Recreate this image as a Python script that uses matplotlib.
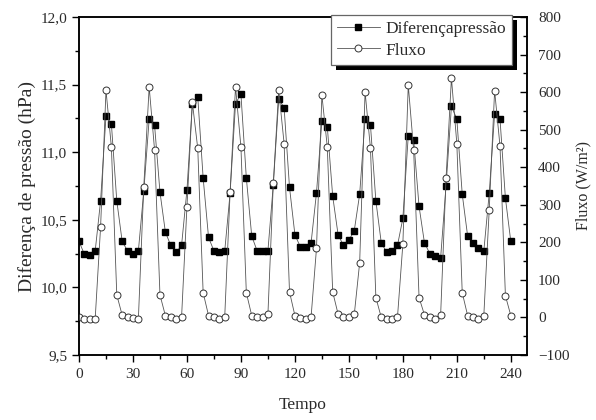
import matplotlib
matplotlib.use("Agg")
import matplotlib.pyplot as plt
from matplotlib.patches import Rectangle
from matplotlib.transforms import IdentityTransform
from matplotlib.ticker import MultipleLocator, FuncFormatter

tempo = list(range(0, 241, 3))

diferenca_pressao = [
    10.34, 10.245, 10.24, 10.27, 10.64, 11.265, 11.21, 10.64,
    10.34, 10.27, 10.245, 10.27, 10.71, 11.245, 11.20, 10.705,
    10.41, 10.31, 10.26, 10.31, 10.72, 11.36, 11.41, 10.81,
    10.37, 10.27, 10.26, 10.27, 10.70, 11.36, 11.43, 10.81,
    10.38, 10.27, 10.27, 10.27, 10.76, 11.39, 11.33, 10.74,
    10.39, 10.30, 10.30, 10.33, 10.70, 11.23, 11.19, 10.675,
    10.39, 10.31, 10.35, 10.42, 10.69, 11.245, 11.20, 10.64,
    10.33, 10.26, 10.27, 10.31, 10.51, 11.12, 11.09, 10.60,
    10.33, 10.25, 10.23, 10.22, 10.75, 11.34, 11.245, 10.69,
    10.38, 10.33, 10.29, 10.27, 10.695, 11.285, 11.245, 10.66,
    10.34,
]

fluxo = [
    2, -3, -4, -3, 241, 605, 454, 60,
    6, 0, -2, -4, 348, 614, 446, 60,
    5, 0, -3, 0, 295, 573, 450, 66,
    5, 0, -3, 2, 335, 614, 454, 66,
    5, 0, 0, 8, 357, 605, 463, 68,
    5, -2, -3, 2, 184, 592, 454, 68,
    9, 0, 0, 8, 146, 601, 450, 53,
    0, -3, -3, 0, 195, 619, 446, 53,
    7, 2, -3, 7, 370, 637, 463, 66,
    5, 0, -3, 5, 286, 604, 456, 58,
    5,
]

x_ticks = [0, 30, 60, 90, 120, 150, 180, 210, 240]

plt.rcParams['font.family'] = ['Liberation Serif', 'DejaVu Serif']
txt = '#2a2a2a'
fs = 11

fig = plt.figure(figsize=(5.96, 4.2), dpi=100)
ax = fig.add_axes([79/596, 1-355/420, (527-79)/596, (355-17)/420])
ax2 = ax.twinx()

l1, = ax.plot(tempo, diferenca_pressao, color='#555555', lw=0.6,
              marker='s', markersize=4.6, markerfacecolor='black',
              markeredgecolor='black', label='Diferençapressão')
l2, = ax2.plot(tempo, fluxo, color='#555555', lw=0.6,
               marker='o', markersize=5, markerfacecolor='white',
               markeredgecolor='#333333', markeredgewidth=0.7, label='Fluxo')

ax.set_xlim(0, 249)
ax.set_ylim(9.5, 12.0)
ax2.set_ylim(-100, 800)

ax.xaxis.set_major_locator(plt.FixedLocator(x_ticks))
ax.xaxis.set_minor_locator(MultipleLocator(15))
ax.yaxis.set_major_locator(MultipleLocator(0.5))
ax.yaxis.set_minor_locator(MultipleLocator(0.25))
ax2.yaxis.set_major_locator(MultipleLocator(100))
ax2.yaxis.set_minor_locator(MultipleLocator(50))

ax.yaxis.set_major_formatter(FuncFormatter(lambda v, p: f"{v:.1f}".replace('.', ',')))

ax.tick_params(axis='both', which='both', direction='out', colors='black',
               labelcolor=txt, labelsize=fs, width=1)
ax.tick_params(which='major', length=5)
ax.tick_params(which='minor', length=3)
ax.tick_params(axis='x', pad=4)
ax2.tick_params(axis='y', which='both', direction='in', labelcolor=txt,
                labelsize=fs, width=1, pad=8)
ax2.tick_params(which='major', length=5)
ax2.tick_params(which='minor', length=3)

for a in (ax, ax2):
    for s in a.spines.values():
        s.set_linewidth(1.1)
        s.set_color('black')

ax.set_xlabel('Tempo', fontsize=12.5, color=txt, labelpad=12)
ax.set_ylabel('Diferença de pressão (hPa)', fontsize=14, color=txt, labelpad=3)
ax2.set_ylabel('Fluxo (W/m²)', fontsize=11.5, color=txt, labelpad=4)

leg = ax2.legend(handles=[l1, l2], loc='upper right', fontsize=12.5,
                 bbox_to_anchor=((512-79)/448, 1.006),
                 frameon=True, fancybox=False, edgecolor='#666666',
                 framealpha=1, borderaxespad=0, handlelength=2.5,
                 borderpad=0.35, labelspacing=0.3, handletextpad=0.3)
leg.get_frame().set_linewidth(0.9)
leg.set_zorder(6)
for t in leg.get_texts():
    t.set_color(txt)

fig.canvas.draw()
bb = leg.get_window_extent()
shadow = Rectangle((bb.x0 + 5, bb.y0 - 5), bb.width, bb.height,
                   transform=IdentityTransform(), facecolor='black',
                   edgecolor='none', zorder=5.5, clip_on=False)
ax2.add_patch(shadow)

fig.savefig('out.png', dpi=100)
